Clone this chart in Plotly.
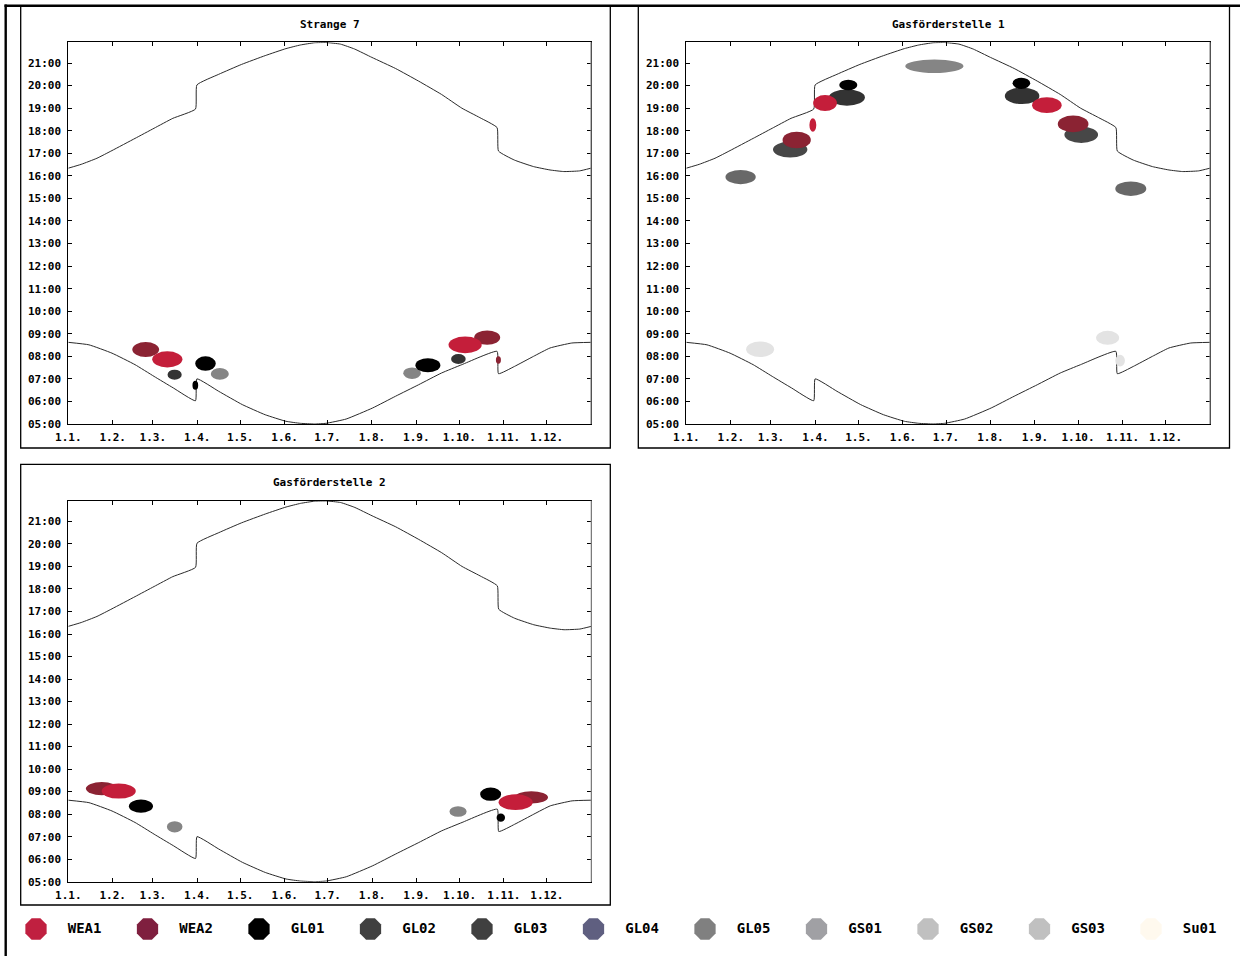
import plotly.graph_objects as go

# ---------------- data ----------------
month_days = [0, 31, 59, 90, 120, 151, 181, 212, 243, 273, 304, 334]
month_labels = ["1.1.", "1.2.", "1.3.", "1.4.", "1.5.", "1.6.", "1.7.", "1.8.",
                "1.9.", "1.10.", "1.11.", "1.12."]
hour_ticks = [5, 6, 7, 8, 9, 10, 11, 12, 13, 14, 15, 16, 17, 18, 19, 20, 21]
hour_labels = ["05:00", "06:00", "07:00", "08:00", "09:00", "10:00", "11:00", "12:00",
               "13:00", "14:00", "15:00", "16:00", "17:00", "18:00", "19:00", "20:00", "21:00"]

# sunset (day of year, local hour)
sunset_day = [0, 9, 20, 30.5, 46.6, 59.9, 73, 88.8, 89.8, 105, 121, 137.5, 152, 162, 172,
              180, 190, 200, 212, 228.5, 244.6, 260.6, 274.8, 287.4, 299.4, 300.4, 311.5,
              324.9, 336.4, 346, 357, 365]
sunset_hour = [16.34, 16.51, 16.78, 17.12, 17.66, 18.11, 18.55, 18.96, 20.03, 20.5, 20.94,
               21.33, 21.64, 21.8, 21.9, 21.91, 21.84, 21.62, 21.25, 20.76, 20.2, 19.61,
               19.0, 18.58, 18.14, 17.1, 16.7, 16.41, 16.26, 16.19, 16.22, 16.34]
# sunrise (day of year, local hour)
sunrise_day = [0, 14.4, 30.5, 46.6, 59.9, 73.3, 88.8, 89.8, 105, 121.5, 137.5, 152, 162,
               172, 180, 194, 212.5, 228.5, 244.6, 260.6, 274.8, 299.4, 300.4, 311.5,
               324.9, 336.4, 351.6, 365]
sunrise_hour = [8.62, 8.51, 8.14, 7.63, 7.11, 6.6, 6.03, 7.0, 6.45, 5.86, 5.41, 5.12,
                5.03, 5.0, 5.03, 5.22, 5.71, 6.23, 6.74, 7.26, 7.63, 8.22, 7.23, 7.55,
                8.0, 8.37, 8.59, 8.62]

sources = ["WEA1", "WEA2", "GL01", "GL02", "GL03", "GL04", "GL05", "GS01", "GS02", "GS03", "Su01"]

panel_titles = ["Strange 7", "Gasförderstelle 1", "Gasförderstelle 2"]

# shadow periods: source, first day, last day, earliest hour, latest hour
s7_src = ["WEA2", "WEA1", "GL02", "GL01", "GL01", "GL05", "GL05", "GL01", "GL02", "WEA1", "WEA2", "WEA2"]
s7_d0 = [44.7, 58.6, 69.3, 86.7, 88.6, 99.5, 233.9, 242.4, 267.3, 265.5, 283.4, 298.6]
s7_d1 = [63.4, 79.7, 79.2, 90.7, 103.0, 112.1, 246.2, 259.8, 277.5, 288.7, 301.6, 302.1]
s7_h0 = [7.97, 7.51, 6.96, 6.52, 7.36, 6.96, 7.00, 7.29, 7.66, 8.14, 8.51, 7.67]
s7_h1 = [8.63, 8.22, 7.41, 6.92, 8.00, 7.48, 7.51, 7.92, 8.10, 8.88, 9.15, 8.00]

g1_src = ["GS01", "GL03", "WEA2", "WEA1", "WEA1", "GL02", "GL01", "GL05", "GL01", "GL02",
          "WEA1", "GL03", "WEA2", "GS01", "GS02", "GS02", "GS02"]
g1_d0 = [27.3, 60.4, 67.1, 85.8, 88.4, 99.4, 106.6, 152.6, 227.4, 222.0,
         241.0, 263.5, 258.9, 299.0, 41.7, 285.6, 299.0]
g1_d1 = [48.4, 84.4, 86.8, 90.6, 105.0, 124.5, 119.2, 193.2, 239.7, 246.1,
         261.6, 287.0, 280.3, 320.6, 61.2, 301.7, 305.7]
g1_h0 = [15.63, 16.81, 17.22, 17.96, 18.87, 19.11, 19.79, 20.56, 19.85, 19.18,
         18.79, 17.46, 17.93, 15.11, 7.97, 8.51, 7.55]
g1_h1 = [16.26, 17.52, 17.96, 18.55, 19.58, 19.83, 20.26, 21.16, 20.35, 19.91,
         19.48, 18.18, 18.67, 15.75, 8.66, 9.13, 8.07]

g2_src = ["WEA2", "WEA1", "GL01", "GL05", "GL05", "GL01", "GL01", "WEA2", "WEA1"]
g2_d0 = [12.3, 23.3, 42.3, 68.8, 266.0, 287.4, 298.9, 311.5, 300.3]
g2_d1 = [34.5, 47.1, 59.1, 79.7, 278.0, 302.1, 304.8, 334.8, 324.1]
g2_h0 = [8.84, 8.69, 8.06, 7.19, 7.88, 8.59, 7.66, 8.47, 8.18]
g2_h1 = [9.43, 9.36, 8.65, 7.69, 8.35, 9.18, 8.03, 9.02, 8.88]

# ---------------- styles ----------------
legend_colors = ["#C02040", "#7F1F3F", "#000000", "#404040", "#404040", "#5F5F80",
                 "#808080", "#A0A0A4", "#C0C0C0", "#C0C0C0", "#FFF9EE"]
blob_colors = {"WEA1": "#C41E3A", "WEA2": "#8B2333", "GL01": "#000000", "GL02": "#333333",
               "GL03": "#474747", "GL04": "#5F5F80", "GL05": "#858585", "GS01": "#686868",
               "GS02": "#E3E3E3", "GS03": "#E3E3E3", "Su01": "#FFF9EE"}

W, H = 1240, 956
FONT = "DejaVu Sans Mono"


def px_x(p):
    return p / W


def px_y(p):
    return 1 - p / H


# plot areas in pixels (left, right, top, bottom)
plot_px = [(68.3, 591.0, 42.3, 424.0), (686.3, 1210.0, 42.3, 424.0), (68.3, 591.3, 500.7, 881.7)]
box_px = [(20.7, 610.3, 6.0, 448.0), (638.3, 1229.5, 6.0, 448.0), (20.7, 610.3, 464.3, 905.0)]
title_px = [(329.6, 24.3), (948.0, 24.3), (329.8, 482.7)]

fig = go.Figure()
layout = dict(
    width=W, height=H, autosize=False,
    margin=dict(l=0, r=0, t=0, b=0, pad=0, autoexpand=False),
    paper_bgcolor="white", plot_bgcolor="white", showlegend=False,
    font=dict(family=FONT, size=11, color="black"),
)

shapes = []
annotations = []

panels = [
    (s7_src, s7_d0, s7_d1, s7_h0, s7_h1),
    (g1_src, g1_d0, g1_d1, g1_h0, g1_h1),
    (g2_src, g2_d0, g2_d1, g2_h0, g2_h1),
]

for i, (pp, bp, tp) in enumerate(zip(plot_px, box_px, title_px)):
    n = "" if i == 0 else str(i + 1)
    xa, ya = "x" + n, "y" + n
    layout["xaxis" + n] = dict(
        domain=[px_x(pp[0]), px_x(pp[1])], range=[0, 365], anchor=ya, automargin=False,
        tickvals=month_days, ticktext=month_labels, ticks="inside", ticklen=4,
        tickcolor="black", showline=True, linecolor="black", linewidth=1, mirror="ticks",
        showgrid=False, zeroline=False, fixedrange=True, ticklabelstandoff=3,
        tickfont=dict(family=FONT, size=11, color="black", weight="bold"),
    )
    layout["yaxis" + n] = dict(
        domain=[px_y(pp[3]), px_y(pp[2])], range=[5, 21.92], anchor=xa, automargin=False,
        tickvals=hour_ticks, ticktext=hour_labels, ticks="inside", ticklen=4,
        tickcolor="black", showline=True, linecolor="black", linewidth=1, mirror="ticks",
        showgrid=False, zeroline=False, fixedrange=True, ticklabelstandoff=4,
        tickfont=dict(family=FONT, size=11, color="black", weight="bold"),
    )
    # sun curves
    fig.add_trace(go.Scatter(x=sunset_day, y=sunset_hour, mode="lines", xaxis=xa, yaxis=ya,
                             line=dict(color="#2a2a2a", width=1, shape="spline", smoothing=0.4),
                             hoverinfo="skip"))
    fig.add_trace(go.Scatter(x=sunrise_day, y=sunrise_hour, mode="lines", xaxis=xa, yaxis=ya,
                             line=dict(color="#2a2a2a", width=1, shape="spline", smoothing=0.4),
                             hoverinfo="skip"))
    # shadow blobs, drawn in reverse legend order so WEA1 is on top
    src, d0, d1, h0, h1 = panels[i]
    order = sorted(range(len(src)), key=lambda k: -sources.index(src[k]))
    for k in order:
        shapes.append(dict(type="circle", xref=xa, yref=ya, x0=d0[k], x1=d1[k], y0=h0[k], y1=h1[k],
                           fillcolor=blob_colors[src[k]], line=dict(width=0), layer="above"))
    # right border in grey
    shapes.append(dict(type="line", xref=xa + " domain", yref=ya + " domain", x0=1, x1=1, y0=0, y1=1,
                       line=dict(color="#8a8a8a", width=1.2), layer="above"))
    # panel frame
    shapes.append(dict(type="rect", xref="paper", yref="paper", x0=px_x(bp[0]), x1=px_x(bp[1]),
                       y0=px_y(bp[3]), y1=px_y(bp[2]), line=dict(color="black", width=1.3)))
    annotations.append(dict(x=px_x(tp[0]), y=px_y(tp[1]), xref="paper", yref="paper",
                            text=panel_titles[i], showarrow=False, xanchor="center", yanchor="middle",
                            font=dict(family=FONT, size=11, color="black", weight="bold")))

# outer frame lines
shapes.append(dict(type="line", xref="paper", yref="paper", x0=px_x(4.5), x1=1.0, y0=px_y(5.7), y1=px_y(5.7),
                   line=dict(color="black", width=2.4)))
shapes.append(dict(type="line", xref="paper", yref="paper", x0=px_x(5.7), x1=px_x(5.7), y0=0, y1=px_y(4.5),
                   line=dict(color="black", width=2.4)))

# legend row (custom axis: index -> position)
layout["xaxis4"] = dict(domain=[0, 1], range=[-36 / 111.5, (W - 36) / 111.5], anchor="y4",
                        visible=False, fixedrange=True, automargin=False)
layout["yaxis4"] = dict(domain=[px_y(945), px_y(913)], range=[-1, 1], anchor="x4",
                        visible=False, fixedrange=True, automargin=False)
idx = list(range(len(sources)))
fig.add_trace(go.Scatter(x=idx, y=[0] * len(idx), mode="markers", xaxis="x4", yaxis="y4",
                         marker=dict(symbol="octagon", size=23, color=legend_colors,
                                     line=dict(width=0)), hoverinfo="skip"))
fig.add_trace(go.Scatter(x=[v + 0.285 for v in idx], y=[0] * len(idx), mode="text", xaxis="x4", yaxis="y4",
                         text=sources, textposition="middle right",
                         textfont=dict(family=FONT, size=14, color="black", weight="bold"),
                         hoverinfo="skip"))

layout["shapes"] = shapes
layout["annotations"] = annotations
fig.update_layout(**layout)

fig.write_html("out.html", config={"displayModeBar": False},
               post_script="document.body.style.margin='0';document.body.style.overflow='hidden';")
